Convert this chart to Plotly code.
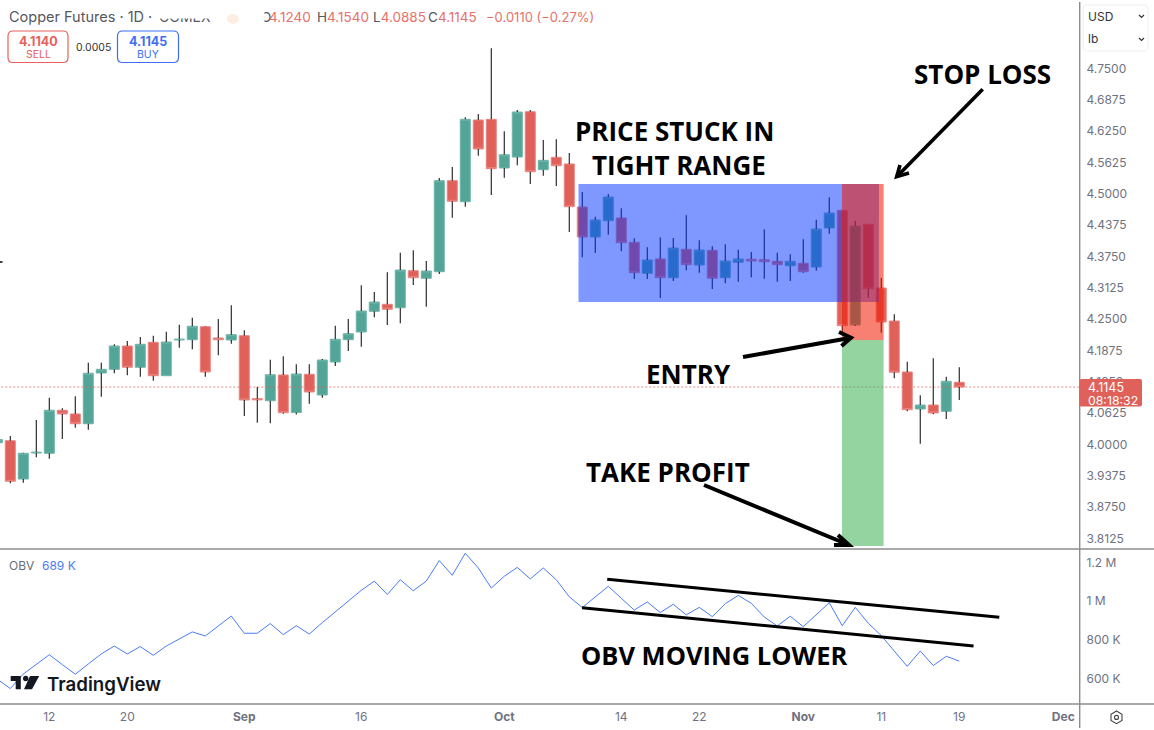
import plotly.graph_objects as go

# bar number on the x axis, weekends already skipped like the source chart
BARS = list(range(-1, 74))

OPEN = [4.0035, 4.0075, 3.9311, 3.9830, 3.9824, 4.0682, 4.0608, 4.0414, 4.1426, 4.1499,
        4.1964, 4.1540, 4.2038, 4.1372, 4.2084, 4.2090, 4.2349, 4.2124, 4.2084, 4.2170,
        4.0913, 4.0873, 4.1386, 4.0638, 4.1400, 4.0987, 4.1645, 4.2090, 4.2244, 4.2656,
        4.2796, 4.2728, 4.3466, 4.3315, 4.3446, 4.5262, 4.4843, 4.6472, 4.6486, 4.5515,
        4.5734, 4.6638, 4.5481, 4.5728, 4.5595, 4.4737, 4.4139, 4.4464, 4.4518, 4.4033,
        4.3414, 4.3700, 4.3327, 4.3893, 4.3580, 4.3873, 4.3327, 4.3634, 4.3694, 4.3686,
        4.3654, 4.3566, 4.3614, 4.3540, 4.4318, 4.4671, 4.2383, 4.4392, 4.3121, 4.2463,
        4.1446, 4.0708, 4.0787, 4.0662, 4.1240]
HIGH = [4.0100, 4.0169, 3.9836, 4.0488, 4.0933, 4.0722, 4.0961, 4.1631, 4.1631, 4.1998,
        4.2064, 4.2144, 4.2170, 4.2250, 4.2389, 4.2529, 4.2357, 4.2503, 4.2776, 4.2277,
        4.1147, 4.1691, 4.1759, 4.1599, 4.1599, 4.1705, 4.2369, 4.2503, 4.3175, 4.3041,
        4.3434, 4.3825, 4.3873, 4.3660, 4.5315, 4.5535, 4.6526, 4.6592, 4.7903, 4.6247,
        4.6672, 4.6672, 4.6073, 4.6087, 4.5814, 4.5036, 4.4543, 4.4996, 4.4711, 4.4113,
        4.3933, 4.4133, 4.4119, 4.4571, 4.4073, 4.3953, 4.3993, 4.3885, 4.3839, 4.4292,
        4.3825, 4.3793, 4.4093, 4.4484, 4.4930, 4.4671, 4.4458, 4.4392, 4.3321, 4.2597,
        4.1651, 4.0981, 4.1719, 4.1352, 4.1540]
LOW = [4.0035, 3.9226, 3.9238, 3.9744, 3.9716, 4.0109, 4.0335, 4.0295, 4.0953, 4.1420,
       4.1380, 4.1352, 4.1272, 4.1372, 4.1930, 4.1898, 4.1352, 4.1779, 4.2010, 4.0568,
       4.0434, 4.0422, 4.0614, 4.0598, 4.0813, 4.0933, 4.1565, 4.1865, 4.1950, 4.2537,
       4.2383, 4.2417, 4.3181, 4.2748, 4.3401, 4.4524, 4.4743, 4.5760, 4.4976, 4.5321,
       4.5569, 4.5196, 4.5361, 4.5156, 4.4238, 4.3734, 4.3819, 4.4184, 4.3853, 4.3301,
       4.3301, 4.2922, 4.3261, 4.3474, 4.3426, 4.3101, 4.3215, 4.3247, 4.3335, 4.3307,
       4.3247, 4.3261, 4.3426, 4.3466, 4.4204, 4.2250, 4.2363, 4.2928, 4.2230, 4.1320,
       4.0662, 4.0015, 4.0602, 4.0508, 4.0885]
CLOSE = [4.0100, 3.9266, 3.9824, 3.9844, 4.0682, 4.0608, 4.0414, 4.1420, 4.1499, 4.1964,
         4.1540, 4.1998, 4.1372, 4.2044, 4.2098, 4.2357, 4.1446, 4.2090, 4.2190, 4.0887,
         4.0893, 4.1392, 4.0634, 4.1406, 4.1047, 4.1685, 4.2098, 4.2210, 4.2662, 4.2842,
         4.2696, 4.3480, 4.3327, 4.3460, 4.5262, 4.4851, 4.6486, 4.5894, 4.5501, 4.5780,
         4.6632, 4.5441, 4.5668, 4.5561, 4.4743, 4.4139, 4.4478, 4.4936, 4.4025, 4.3426,
         4.3680, 4.3327, 4.3919, 4.3586, 4.3879, 4.3315, 4.3660, 4.3700, 4.3660, 4.3646,
         4.3586, 4.3654, 4.3446, 4.4298, 4.4617, 4.2369, 4.4358, 4.3107, 4.2443, 4.1440,
         4.0694, 4.0787, 4.0628, 4.1260, 4.1145]

OBV = [595, 547, 622, 671, 722, 671, 621, 674, 726, 767,
       726, 764, 719, 767, 803, 840, 819, 871, 922, 833,
       833, 883, 826, 872, 829, 888, 945, 998, 1055, 1103,
       1034, 1110, 1053, 1103, 1209, 1133, 1247, 1171, 1067, 1128,
       1174, 1114, 1171, 1110, 1022, 966, 1021, 1076, 1014, 953,
       995, 940, 983, 928, 967, 919, 986, 1029, 988, 917,
       871, 921, 867, 929, 991, 872, 967, 885, 821, 741,
       662, 741, 666, 714, 689]

LAST_PRICE = 4.1145

PRICE_TICKS = [4.75, 4.6875, 4.625, 4.5625, 4.5, 4.4375, 4.375, 4.3125, 4.25, 4.1875,
               4.125, 4.0625, 4.0, 3.9375, 3.875, 3.8125]
OBV_TICKS = [1200, 1000, 800, 600]
OBV_LABELS = ["1.2 M", "1 M", "800 K", "600 K"]
DATE_TICKS = [3, 9, 18, 27, 38, 47, 53, 61, 67, 73, 81]
DATE_LABELS = ["12", "20", "<b>Sep</b>", "16", "<b>Oct</b>", "14", "22", "<b>Nov</b>", "11", "19", "<b>Dec</b>"]

# drawn position tools and trend lines, in bars and price / OBV
RANGE_BARS = [43.71, 66.82]
RANGE_PRICE = [4.2842, 4.5196]
STOP_BARS = [63.98, 67.18]
STOP_PRICE = [4.2084, 4.5196]
TARGET_BARS = [63.98, 67.18]
TARGET_PRICE = [3.7975, 4.2084]
TREND_UP_BARS = [45.92, 76.08]
TREND_UP_OBV = [1112, 916]
TREND_LOW_BARS = [43.98, 74.1]
TREND_LOW_OBV = [965, 767]

GREEN = "#53a598"
RED = "#e0605a"
INK = "#000000"
AXIS_GREY = "#8c8c8c"
LABEL_GREY = "#6f7280"
BLUE = "#4a7bf7"
W, H = 1154, 730


def px(x):
    return x / W


def py(y):
    return 1 - y / H


def path(*pts, close=False):
    d = "M " + " L ".join(f"{px(x):.5f} {py(y):.5f}" for x, y in pts)
    return d + (" Z" if close else "")


def rounded(x0, y0, x1, y1, r):
    return (f"M {px(x0 + r):.5f} {py(y0):.5f} L {px(x1 - r):.5f} {py(y0):.5f} "
            f"Q {px(x1):.5f} {py(y0):.5f} {px(x1):.5f} {py(y0 + r):.5f} "
            f"L {px(x1):.5f} {py(y1 - r):.5f} Q {px(x1):.5f} {py(y1):.5f} {px(x1 - r):.5f} {py(y1):.5f} "
            f"L {px(x0 + r):.5f} {py(y1):.5f} Q {px(x0):.5f} {py(y1):.5f} {px(x0):.5f} {py(y1 - r):.5f} "
            f"L {px(x0):.5f} {py(y0 + r):.5f} Q {px(x0):.5f} {py(y0):.5f} {px(x0 + r):.5f} {py(y0):.5f} Z")


fig = go.Figure()

# last price line
fig.add_trace(go.Scatter(x=[BARS[0], 83], y=[LAST_PRICE, LAST_PRICE], mode="lines",
                         line=dict(color=RED, width=1, dash="2px,2px"), opacity=0.75,
                         xaxis="x", yaxis="y"))

# plotly puts scatter over the boxes, so the wicks stop at the body
wick_x, wick_y = [], []
for b, o, h, l, c in zip(BARS, OPEN, HIGH, LOW, CLOSE):
    wick_x += [b, b, None, b, b, None]
    wick_y += [max(o, c), h, None, min(o, c), l, None]
fig.add_trace(go.Scatter(x=wick_x, y=wick_y, mode="lines", line=dict(color="#1a1a1a", width=1.1),
                         xaxis="x", yaxis="y"))

fig.add_trace(go.Candlestick(
    x=BARS, open=OPEN, close=CLOSE,
    high=[max(o, c) for o, c in zip(OPEN, CLOSE)],
    low=[min(o, c) for o, c in zip(OPEN, CLOSE)],
    increasing=dict(line=dict(color="#6fb5aa", width=1), fillcolor=GREEN),
    decreasing=dict(line=dict(color="#ea8580", width=1), fillcolor=RED),
    whiskerwidth=0, xaxis="x", yaxis="y"))

fig.add_trace(go.Scatter(x=BARS, y=OBV, mode="lines", line=dict(color=BLUE, width=1),
                         xaxis="x2", yaxis="y2"))
fig.add_trace(go.Scatter(x=TREND_UP_BARS, y=TREND_UP_OBV, mode="lines", line=dict(color=INK, width=3),
                         xaxis="x2", yaxis="y2"))
fig.add_trace(go.Scatter(x=TREND_LOW_BARS, y=TREND_LOW_OBV, mode="lines", line=dict(color=INK, width=3),
                         xaxis="x2", yaxis="y2"))

# position boxes go over the candles, the blend is part of the look
for xs, ys, col in [(RANGE_BARS, RANGE_PRICE, "rgba(0,50,255,0.5)"),
                    (STOP_BARS, STOP_PRICE, "rgba(240,24,0,0.55)"),
                    (TARGET_BARS, TARGET_PRICE, "rgba(60,177,83,0.55)")]:
    fig.add_shape(type="rect", xref="x", yref="y", x0=xs[0], x1=xs[1], y0=ys[0], y1=ys[1],
                  fillcolor=col, line_width=0)


def arrow(tail, tip, arm_a, arm_b, width):
    fig.add_shape(type="path", xref="paper", yref="paper", path=path(tail, tip),
                  line=dict(color=INK, width=width))
    fig.add_shape(type="path", xref="paper", yref="paper", path=path(arm_a, tip, arm_b),
                  line=dict(color=INK, width=width))


arrow((982.7, 89.3), (896.7, 176.7), (900, 165), (909, 173), 3.6)
arrow((743, 357), (851, 337.7), (839, 332), (841.5, 346), 4)
arrow((704, 485), (849, 545), (838, 535), (834, 545), 4)

# panel frame
for pts in [[(0, 549), (W, 549)], [(0, 704), (W, 704)], [(1079.7, 2), (1079.7, 728)]]:
    fig.add_shape(type="path", xref="paper", yref="paper", path=path(*pts),
                  line=dict(color=AXIS_GREY, width=1.4))
fig.add_shape(type="path", xref="paper", yref="paper", path=path((0, 262), (2.5, 262)),
              line=dict(color=INK, width=1.5))

# last price flag
fig.add_shape(type="path", xref="paper", yref="paper", path=rounded(1079.5, 379, 1142, 406.5, 2),
              fillcolor=RED, line_width=0)

# sell / buy buttons and unit box
fig.add_shape(type="path", xref="paper", yref="paper", path=rounded(8, 31, 68, 62.5, 5),
              fillcolor="white", line=dict(color="#e8605c", width=1.2))
fig.add_shape(type="path", xref="paper", yref="paper", path=rounded(117.5, 31, 178.5, 62.5, 5),
              fillcolor="white", line=dict(color="#3f6ef5", width=1.2))
fig.add_shape(type="path", xref="paper", yref="paper", path=rounded(1083, 5, 1148, 51, 4),
              fillcolor="white", line=dict(color="#eeeeee", width=1))
for cy in (16, 39):
    fig.add_shape(type="path", xref="paper", yref="paper",
                  path=path((1139, cy - 1), (1141.5, cy + 1.5), (1144, cy - 1)),
                  line=dict(color="#333333", width=1.2))

# settings icon
fig.add_shape(type="path", xref="paper", yref="paper",
              path=path((1116.5, 711), (1122, 714.2), (1122, 720.5), (1116.5, 723.7), (1111, 720.5), (1111, 714.2), close=True),
              line=dict(color="#444444", width=1.1))
fig.add_shape(type="circle", xref="paper", yref="paper", x0=px(1114.5), x1=px(1118.5), y0=py(719.4), y1=py(715.4),
              line=dict(color="#444444", width=1.1))

# faint logo stub next to the title
fig.add_shape(type="circle", xref="paper", yref="paper", x0=px(227), x1=px(239), y0=py(24), y1=py(14),
              fillcolor="#fdeee3", line_width=0)

# TradingView mark
fig.add_shape(type="path", xref="paper", yref="paper",
              path=path((10.7, 676), (20.8, 676), (20.8, 689.3), (15.7, 689.3), (15.7, 681), (10.7, 681), close=True),
              fillcolor="#131722", line_width=0)
fig.add_shape(type="circle", xref="paper", yref="paper", x0=px(23), x1=px(28.4), y0=py(681.2), y1=py(675.8),
              fillcolor="#131722", line_width=0)
fig.add_shape(type="path", xref="paper", yref="paper",
              path=path((30, 676), (39.2, 676), (32, 689.3), (24, 689.3), close=True),
              fillcolor="#131722", line_width=0)


def note(x, y, text, size, color, family="Inter", weight=None, anchor="left"):
    fig.add_annotation(xref="paper", yref="paper", x=px(x), y=py(y), text=text, showarrow=False,
                       xanchor=anchor, yanchor="middle", borderpad=0,
                       font=dict(family=family, size=size, color=color, weight=weight))


# big callouts
BIG = "Open Sans"
note(675, 131, "PRICE STUCK IN", 26, INK, BIG, 700, "center")
note(679, 165, "TIGHT RANGE", 26, INK, BIG, 700, "center")
note(982, 74, "STOP LOSS", 26, INK, BIG, 700, "center")
note(688, 374, "ENTRY", 26, INK, BIG, 700, "center")
note(668, 472, "TAKE PROFIT", 26, INK, BIG, 700, "center")
note(714, 655, "OBV MOVING LOWER", 25.5, INK, BIG, 700, "center")

# header
note(8, 17, "Copper Futures · 1D ·", 14.5, "#55585f")
note(158, 17, "COMEX", 14, "#55585f")
note(260, 17, "O", 13.5, "#55585f")
TITLE_RED = "#e8706a"
note(268, 17, f"<span style='color:{TITLE_RED}'>4.1240</span>", 13.5, "#55585f")
note(316, 17, f"H<span style='color:{TITLE_RED}'>4.1540</span>", 13.5, "#55585f")
note(372, 17, f"L<span style='color:{TITLE_RED}'>4.0885</span>", 13.5, "#55585f")
note(427, 17, f"C<span style='color:{TITLE_RED}'>4.1145</span>", 13.5, "#55585f")
note(485, 17, "−0.0110 (−0.27%)", 13, TITLE_RED)
# the source screenshot has these bits wiped out
for x, y, w, h in [(155, 4, 60, 12.5), (256, 6, 7, 22)]:
    fig.add_annotation(xref="paper", yref="paper", x=px(x), y=py(y), text=" ", showarrow=False,
                       xanchor="left", yanchor="top", width=w, height=h, bgcolor="white", borderpad=0)

note(38, 41, "<b>4.1140</b>", 12.5, "#e8605c", anchor="center")
note(38, 54.5, "SELL", 10.5, "#e8605c", anchor="center")
note(93, 47, "0.0005", 10.5, "#333333", anchor="center")
note(148, 41, "<b>4.1145</b>", 12.5, "#3f6ef5", anchor="center")
note(148, 54.5, "BUY", 10.5, "#3f6ef5", anchor="center")

note(1087, 16, "USD", 12, "#333333")
note(1087, 39, "lb", 12, "#333333")

note(1087, 387, "4.1145", 12.5, "white")
note(1087, 400, "08:18:32", 12.3, "white")

note(8, 565, "OBV", 12, "#6a6d76")
note(41, 565, "689 K", 12, BLUE)
note(46, 684, "TradingView", 18.7, "#131722", weight=600)

axis_font = dict(family="Inter", size=12, color=LABEL_GREY)
fig.update_layout(
    width=W, height=H, margin=dict(l=0, r=0, t=0, b=0), paper_bgcolor="white", plot_bgcolor="white",
    showlegend=False, boxgap=0.23, boxgroupgap=0, hovermode=False,
    xaxis=dict(domain=[0, px(1079.5)], range=[-0.792, 82.25], showgrid=False, zeroline=False,
               showticklabels=False, ticks="", rangeslider=dict(visible=False), anchor="y"),
    yaxis=dict(domain=[py(549), 1], range=[3.7915, 4.8866], side="right", anchor="x", showgrid=False,
               zeroline=False, tickvals=PRICE_TICKS, ticktext=[f"{t:.4f}" for t in PRICE_TICKS],
               ticks="", tickfont=axis_font, ticklabelstandoff=6),
    xaxis2=dict(domain=[0, px(1079.5)], range=[-0.792, 82.25], showgrid=False, zeroline=False,
                tickvals=DATE_TICKS, ticktext=DATE_LABELS, ticks="", tickfont=axis_font,
                anchor="y2", ticklabelstandoff=4),
    yaxis2=dict(domain=[py(704), py(549)], range=[467, 1269], side="right", anchor="x2", showgrid=False,
                zeroline=False, tickvals=OBV_TICKS, ticktext=OBV_LABELS, ticks="", tickfont=axis_font,
                ticklabelstandoff=6),
)

# the page's default 8px body margin would push the fixed-size figure off the window
fig.write_html("out.html", config={"displayModeBar": False},
               post_script="document.body.style.margin='0';")
